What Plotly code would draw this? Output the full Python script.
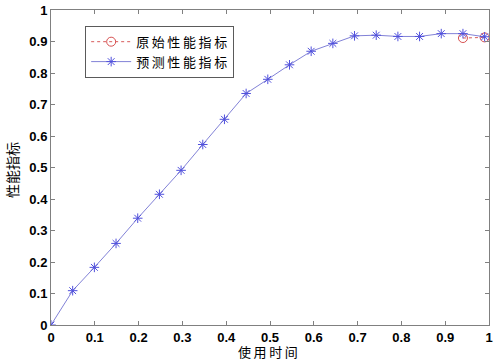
import plotly.graph_objects as go

# Data
time_pred = [0, 0.0495, 0.099, 0.1485, 0.198, 0.2475, 0.297, 0.3465, 0.396, 0.4455,
             0.495, 0.5445, 0.594, 0.6435, 0.693, 0.7425, 0.792, 0.8415, 0.891, 0.9405, 0.99]
perf_pred = [0.0, 0.109, 0.183, 0.259, 0.339, 0.415, 0.491, 0.573, 0.653, 0.735,
             0.780, 0.826, 0.869, 0.894, 0.918, 0.920, 0.916, 0.916, 0.925, 0.925, 0.915]
time_orig = [0.9405, 0.99]
perf_orig = [0.911, 0.913]

x_ticks = [0, 0.1, 0.2, 0.3, 0.4, 0.5, 0.6, 0.7, 0.8, 0.9, 1]
x_ticklabels = ["0", "0.1", "0.2", "0.3", "0.4", "0.5", "0.6", "0.7", "0.8", "0.9", "1"]
y_ticks = x_ticks
y_ticklabels = x_ticklabels

TS = "\u2009"  # thin space, imitates the spaced-out legend lettering
name_orig = TS.join("原始性能指标")
name_pred = TS.join("预测性能指标")
x_title = TS.join("使用时间")
y_title = "性能指标"

cjk = "Noto Sans CJK SC"
fig = go.Figure()
fig.add_trace(go.Scatter(
    x=time_orig, y=perf_orig, mode="lines+markers", name=name_orig,
    line=dict(color="rgb(215,90,90)", width=1, dash="dot"),
    marker=dict(symbol="circle-open", size=9, color="rgb(215,80,80)", line=dict(width=1)),
))
fig.add_trace(go.Scatter(
    x=time_pred, y=perf_pred, mode="lines+markers", name=name_pred,
    line=dict(color="rgb(130,130,215)", width=1),
    marker=dict(symbol="asterisk-open", size=8, color="rgb(80,80,220)",
                line=dict(width=1, color="rgb(80,80,220)")),
))

axis_common = dict(
    range=[0, 1], showgrid=False, zeroline=False, showline=True, mirror="ticks",
    linecolor="rgb(128,128,128)", linewidth=1, ticks="inside", ticklen=4,
    tickcolor="rgb(128,128,128)", automargin=False,
    tickfont=dict(family="Liberation Sans, Arial", size=13, color="black", weight="bold"),
)
fig.update_xaxes(**axis_common, tickvals=x_ticks, ticktext=x_ticklabels, ticklabelstandoff=0)
fig.update_yaxes(**axis_common, tickvals=y_ticks, ticktext=y_ticklabels)

fig.add_annotation(text=x_title, xref="paper", yref="paper", x=0.495, y=-0.083,
                   xanchor="center", yanchor="middle", showarrow=False, borderpad=0,
                   font=dict(family=cjk, size=13, color="black"))
fig.add_annotation(text=y_title, xref="paper", yref="paper", x=-0.089, y=0.492,
                   xanchor="center", yanchor="middle", showarrow=False, textangle=-90,
                   borderpad=0, font=dict(family=cjk, size=14, color="black"))

fig.update_layout(
    width=496, height=360,
    margin=dict(l=51, r=7, t=10, b=35),
    paper_bgcolor="white", plot_bgcolor="white",
    legend=dict(x=0.078, y=0.95, xanchor="left", yanchor="top",
                bordercolor="rgb(90,90,90)", borderwidth=1, bgcolor="white",
                font=dict(family=cjk, size=13, color="black"),
                tracegroupgap=0, itemwidth=40),
    showlegend=True,
)
fig.write_html("out.html", config={"displayModeBar": False},
               post_script="document.body.style.margin='0';")
